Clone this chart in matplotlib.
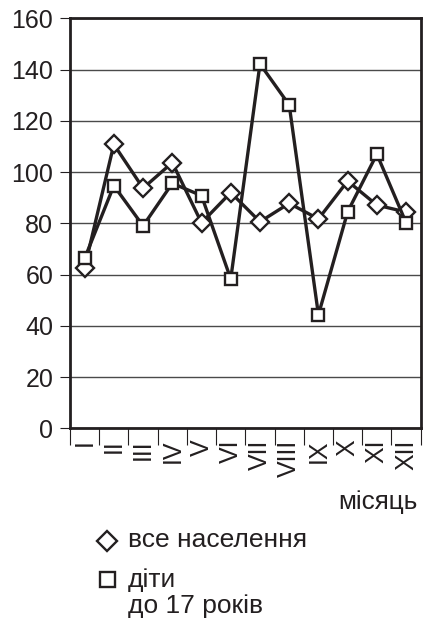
import matplotlib
matplotlib.use("Agg")
import matplotlib.pyplot as plt
from matplotlib.lines import Line2D
import numpy as np

plt.rcParams["font.family"] = ["Liberation Sans", "DejaVu Sans"]

months = ["I", "II", "III", "IV", "V", "VI", "VII", "VIII", "IX", "X", "XI", "XII"]
all_population = [62.7, 110.8, 93.7, 103.7, 80.2, 92.0, 80.6, 87.8, 81.7, 96.5, 87.1, 84.4]
children = [66.3, 94.7, 79.0, 95.6, 90.8, 58.3, 142.2, 126.2, 44.3, 84.5, 107.0, 80.2]
y_ticks = [0, 20, 40, 60, 80, 100, 120, 140, 160]

INK = "#231f20"

fig = plt.figure(figsize=(4.23, 6.21), dpi=100)
ax = fig.add_axes([0.1655, 0.3103, 0.8291, 0.6602])

x = np.arange(len(months))
style = dict(color=INK, lw=2.4, mfc="white", mec=INK, mew=1.7, zorder=3)
ax.plot(x, all_population, marker="D", ms=9.0, **style)
ax.plot(x, children, marker="s", ms=9.2, **style)

ax.set_xlim(-0.5, len(months) - 0.5)
ax.set_ylim(0, 160)
ax.set_yticks(y_ticks)
ax.set_yticklabels([str(v) for v in y_ticks], fontsize=18, color=INK)
ax.set_xticks(x)
ax.set_xticklabels(months, rotation=90, fontsize=18, color=INK)
ax.set_xticks(np.arange(-0.5, len(months)), minor=True)
ax.tick_params(axis="x", which="major", length=0, pad=8)
ax.tick_params(axis="x", which="minor", length=12, width=0.8, color=INK, direction="out")
ax.tick_params(axis="y", length=7, width=0.8, color=INK, pad=5)

ax.grid(axis="y", color="#4a4a4a", lw=1.0, zorder=0)
for s in ax.spines.values():
    s.set_color(INK)
    s.set_linewidth(2.0)

fig.text(0.988, 0.1804, "місяць", ha="right", va="baseline", fontsize=18.8, color=INK)

# legend: marker glyphs and labels
fig.add_artist(Line2D([0.2518], [0.1288], transform=fig.transFigure, ls="none",
                      marker="D", ms=10, mfc="white", mec=INK, mew=1.7))
fig.add_artist(Line2D([0.2541], [0.0684], transform=fig.transFigure, ls="none",
                      marker="s", ms=10.8, mfc="white", mec=INK, mew=1.7))
fig.text(0.3026, 0.1192, "все населення", ha="left", va="baseline", fontsize=19, color=INK)
fig.text(0.3026, 0.0548, "діти", ha="left", va="baseline", fontsize=19, color=INK)
fig.text(0.3026, 0.0130, "до 17 років", ha="left", va="baseline", fontsize=19, color=INK)

fig.savefig("out.png", dpi=100)
